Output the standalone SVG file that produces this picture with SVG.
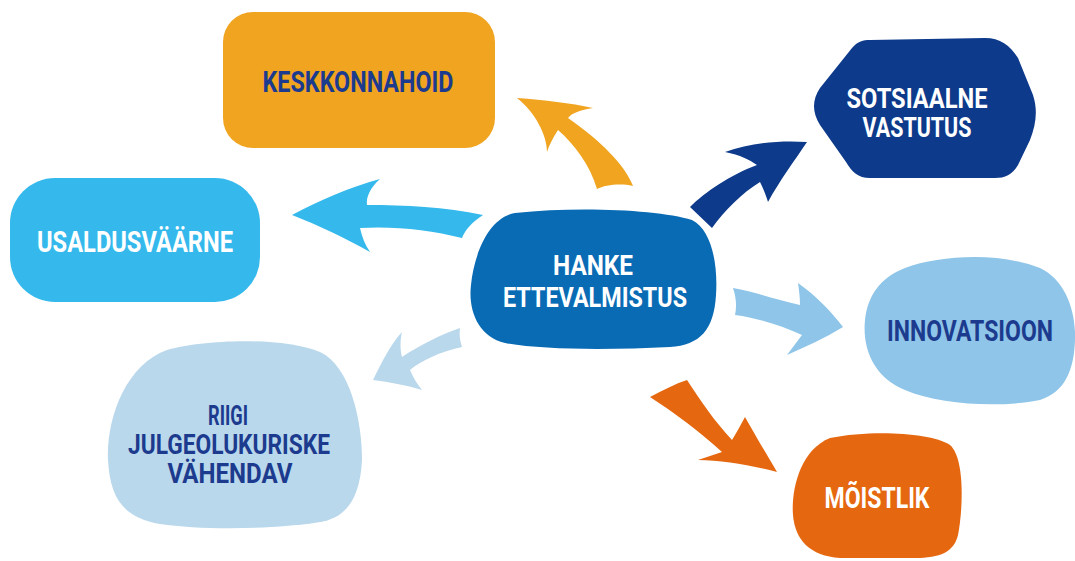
<svg xmlns="http://www.w3.org/2000/svg" width="1075" height="561" viewBox="0 0 1075 561">
<style>
.t{font-family:Roboto,"Liberation Sans",sans-serif;font-weight:bold;text-anchor:middle}
.w{fill:#ffffff}
.n{fill:#1C3B8E}
</style>
<rect width="1075" height="561" fill="#ffffff"/>
<g id="connectors">
<path fill="#F0A420" d="M 517,98 C 545,100 570,103 593,108 C 580,110 572,113 568,118 C 600,140 625,165 633,186 C 620,183 605,185 597,189 C 590,165 575,145 558,130 C 553,138 549,145 547,152 C 547,135 535,112 517,98 Z"/>
<path fill="#0D3A8A" d="M 807,142 C 780,140 750,143 725,152 C 740,155 750,160 757,165 C 730,175 705,192 690,207 L 712,228 C 725,210 742,193 760,182 C 763,188 766,195 768,202 C 780,180 795,160 807,142 Z"/>
<path fill="#35B9EC" d="M 292,215 C 320,200 350,187 380,179 C 370,188 366,197 367,205 C 405,205 445,207 483,215 C 472,222 465,230 462,238 C 430,230 395,226 360,228 C 362,237 365,245 370,252 C 345,238 318,225 292,215 Z"/>
<path fill="#B9D8EC" d="M 373,380 C 382,362 390,345 402,332 C 400,340 400,350 402,357 C 420,345 440,335 460,328 C 459,335 460,341 462,347 C 440,352 422,360 410,370 C 413,377 417,384 422,390 C 405,385 390,382 373,380 Z"/>
<path fill="#E5670F" d="M 650,397 C 663,390 675,384 687,380 C 700,400 715,422 732,440 C 737,432 741,424 745,417 C 755,435 767,455 777,472 C 750,465 722,460 698,460 C 706,457 714,455 722,452 C 700,432 675,413 650,397 Z"/>
<path fill="#8EC5E8" d="M 733,288 C 755,292 778,300 800,305 C 800,297 799,290 798,283 C 815,295 830,310 843,327 C 825,338 805,347 787,355 C 792,348 797,342 802,335 C 780,325 757,318 735,315 C 737,306 736,297 733,288 Z"/>
</g>
<g id="node-hanke">
<path fill="#0A6BB5" d="M 515,213 C 580,206 660,210 692,220 C 712,230 718,265 716,295 C 714,330 700,345 670,347 C 610,350 540,350 505,343 C 478,337 468,310 471,285 C 474,255 488,218 515,213 Z"/>
<text class="t w" x="593" y="275" font-size="28" textLength="80" lengthAdjust="spacingAndGlyphs">HANKE</text>
<text class="t w" x="595" y="307" font-size="28" textLength="184" lengthAdjust="spacingAndGlyphs">ETTEVALMISTUS</text>
</g>
<g id="node-keskkonnahoid">
<rect x="223" y="12" width="272" height="136" rx="30" fill="#F0A420"/>
<text class="t n" x="358" y="92" font-size="30" textLength="191" lengthAdjust="spacingAndGlyphs">KESKKONNAHOID</text>
</g>
<g id="node-sotsiaalne">
<path fill="#0D3A8A" d="M 870,40 L 985,38 C 1000,38 1010,45 1018,58 L 1033,95 C 1038,110 1036,125 1030,140 L 1018,165 C 1012,175 1005,178 995,178 L 870,178 C 858,178 852,172 846,162 L 820,125 C 812,112 812,100 820,88 L 852,48 C 858,41 863,40 870,40 Z"/>
<text class="t w" x="917" y="108" font-size="28" textLength="141" lengthAdjust="spacingAndGlyphs">SOTSIAALNE</text>
<text class="t w" x="917" y="137" font-size="28" textLength="109" lengthAdjust="spacingAndGlyphs">VASTUTUS</text>
</g>
<g id="node-usaldusvaarne">
<rect x="10" y="178" width="250" height="124" rx="45" fill="#35B9EC"/>
<text class="t w" x="135" y="252" font-size="30" textLength="196" lengthAdjust="spacingAndGlyphs">USALDUSVÄÄRNE</text>
</g>
<g id="node-innovatsioon">
<path fill="#8EC5E8" d="M 905,268 C 940,255 1000,252 1040,268 C 1065,280 1076,310 1075,340 C 1074,370 1065,392 1040,400 C 1000,408 940,405 905,390 C 875,378 862,350 865,320 C 868,295 880,278 905,268 Z"/>
<text class="t n" x="970" y="341" font-size="29" textLength="166" lengthAdjust="spacingAndGlyphs">INNOVATSIOON</text>
</g>
<g id="node-riigi">
<path fill="#B9D8EC" d="M 167,350 C 200,340 280,336 320,352 C 350,366 362,420 362,460 C 360,500 345,518 320,522 C 270,530 200,530 160,524 C 125,518 110,500 108,460 C 106,420 125,365 167,350 Z"/>
<text class="t n" x="228" y="425" font-size="28" textLength="40" lengthAdjust="spacingAndGlyphs">RIIGI</text>
<text class="t n" x="229" y="454" font-size="28" textLength="202" lengthAdjust="spacingAndGlyphs">JULGEOLUKURISKE</text>
<text class="t n" x="230" y="483" font-size="28" textLength="125" lengthAdjust="spacingAndGlyphs">VÄHENDAV</text>
</g>
<g id="node-moistlik">
<path fill="#E5670F" d="M 830,438 C 870,430 930,432 950,445 C 965,458 963,510 958,535 C 954,552 940,558 915,558 L 840,558 C 810,556 795,540 793,515 C 791,490 800,450 830,438 Z"/>
<text class="t w" x="877" y="508" font-size="29" textLength="105" lengthAdjust="spacingAndGlyphs">MÕISTLIK</text>
</g>
</svg>
